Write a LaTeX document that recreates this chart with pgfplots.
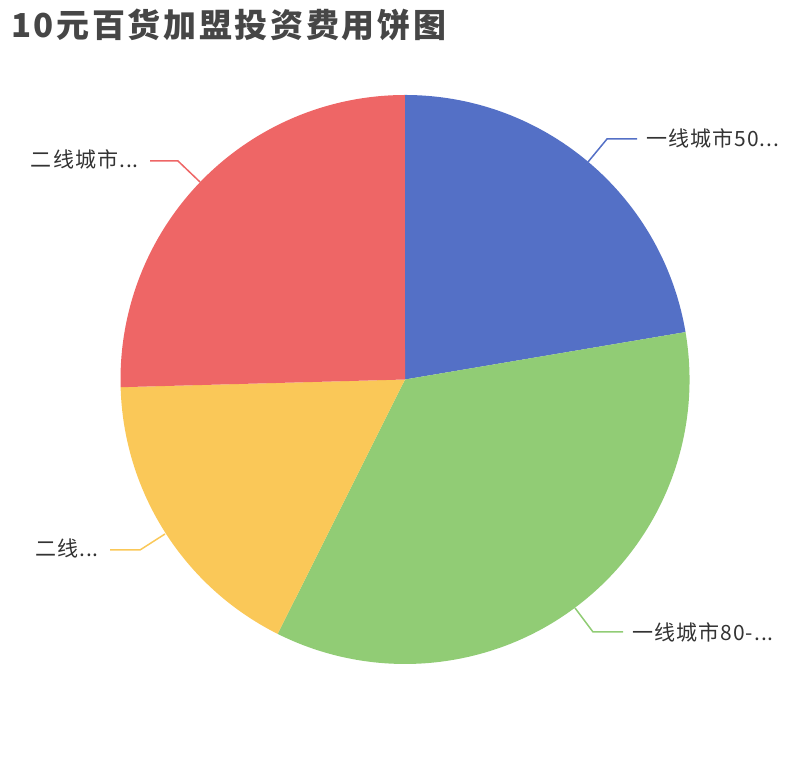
\documentclass[border=0pt]{standalone}
\usepackage{pgfplots}
\pgfplotsset{compat=1.18}
\usepackage{pgfplotstable}
\usepackage{fontspec}
\setmainfont{Noto Sans CJK SC}

\definecolor{pieblue}{HTML}{5470C6}
\definecolor{piegreen}{HTML}{91CC75}
\definecolor{pieyellow}{HTML}{FAC858}
\definecolor{piered}{HTML}{EE6666}
\definecolor{titlegray}{HTML}{464646}
\definecolor{labelgray}{HTML}{333333}

% slice values, clockwise from 12 o'clock
\pgfplotstableread{
value color
65  pieblue
102 piegreen
50  pieyellow
74  piered
}\piedata

\begin{document}
\begin{tikzpicture}
\begin{axis}[
    x=1bp, y=1bp,
    xmin=0, xmax=810,
    ymin=0, ymax=760,
    at={(0,0)}, anchor=south west,
    hide axis,
    clip=false,
]
% keep the whole canvas as the page
\path (axis cs:0,0) rectangle (axis cs:810,760);
% total of the slices
\def\total{0}
\pgfplotsforeachungrouped \i in {0,...,3}{%
    \pgfplotstablegetelem{\i}{value}\of\piedata
    \pgfmathsetmacro\total{\total+\pgfplotsretval}%
}
% wedges
\def\cx{405}\def\cy{380.5}\def\R{284.5}
\def\startang{90}
\pgfplotsforeachungrouped \i in {0,...,3}{%
    \pgfplotstablegetelem{\i}{value}\of\piedata \let\v\pgfplotsretval
    \pgfplotstablegetelem{\i}{color}\of\piedata \let\c\pgfplotsretval
    \pgfmathsetmacro\endang{\startang-\v/\total*360}%
    \edef\temp{\noexpand\fill[\c] (axis cs:\cx,\cy) -- ++(\startang:\R bp)
        arc[start angle=\startang, end angle=\endang, radius=\R bp] -- cycle;}%
    \temp
    \let\startang\endang
}

% label lines
\draw[pieblue, line width=1.5bp] (axis cs:588,598) -- (axis cs:607,621) -- (axis cs:637,621);
\draw[piegreen, line width=1.5bp] (axis cs:575,152) -- (axis cs:593,128) -- (axis cs:623,128);
\draw[pieyellow, line width=1.5bp] (axis cs:165,226) -- (axis cs:140,210) -- (axis cs:110,210);
\draw[piered, line width=1.5bp] (axis cs:200,578) -- (axis cs:178,599) -- (axis cs:150,599);

% labels
\begin{scope}[every node/.style={inner sep=0pt, text=labelgray,
        font=\fontsize{21bp}{25bp}\selectfont\addfontfeature{LetterSpace=5}}]
\node[anchor=west] at (axis cs:646,622) {一线城市50...};
\node[anchor=west] at (axis cs:632,128) {一线城市80-...};
\node[anchor=east] at (axis cs:99,212) {二线...};
\node[anchor=east] at (axis cs:139,601) {二线城市...};
\end{scope}

% title
\node[anchor=base west, inner sep=0pt, text=titlegray,
    font=\fontsize{33bp}{40bp}\selectfont\bfseries\addfontfeature{LetterSpace=8}]
    at (axis cs:11,722) {10元百货加盟投资费用饼图};
\end{axis}
\end{tikzpicture}
\end{document}
